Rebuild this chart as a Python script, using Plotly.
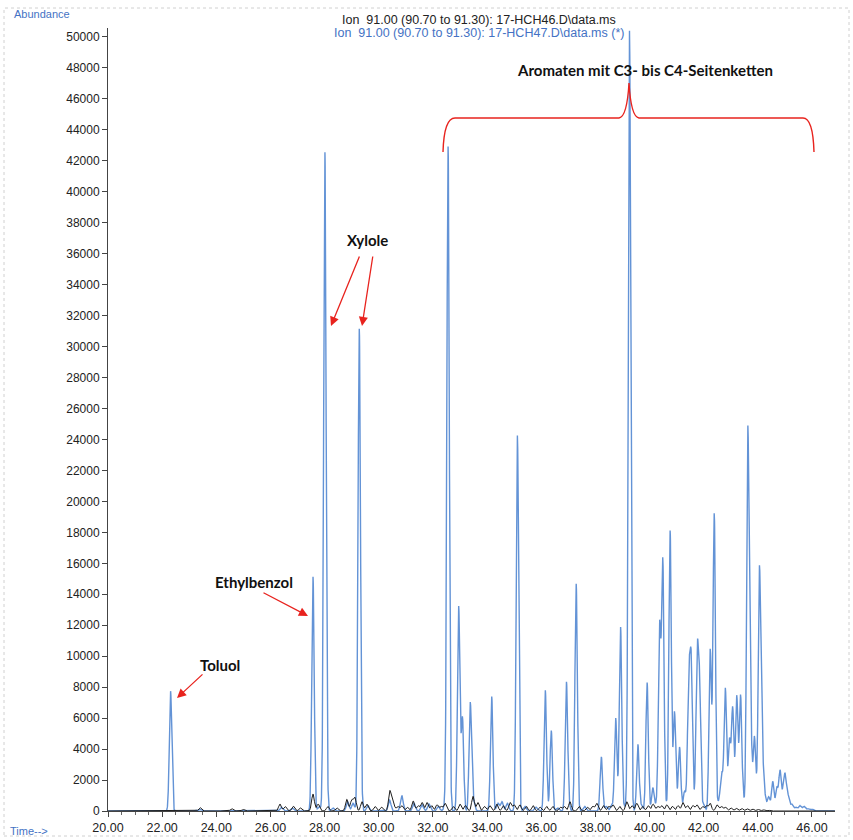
import numpy as np
import plotly.graph_objects as go

# ---------------- data ----------------
# Sample 17-HCH47 (blue) : main peaks (retention time [min], abundance)
blue_major_t = [22.31, 27.57, 28.01, 29.28, 32.56, 32.95, 33.09, 33.38, 34.17, 35.12,
                36.15, 36.37, 36.93, 37.29, 38.22, 38.75, 38.93, 39.26, 39.57, 39.91,
                40.12, 40.37, 40.49, 40.76, 40.92, 41.11, 41.29, 41.45, 41.54, 41.76,
                41.85, 42.24, 42.39, 42.65, 42.80, 42.95, 43.07, 43.22, 43.36, 43.63,
                43.73, 43.87, 44.06, 44.16, 44.55, 44.70, 44.82, 44.95, 45.02, 45.12]
blue_major_h = [7750, 15150, 42600, 31150, 42900, 13200, 6000, 7000, 7400, 24250,
                7800, 5200, 8200, 14700, 3500, 6000, 11900, 50400, 4300, 8300,
                1500, 11800, 16000, 18100, 6300, 4100, 1200, 7800, 9100, 9750,
                7600, 10400, 19200, 1700, 7800, 4500, 6600, 7400, 7300, 24350,
                6100, 4600, 15500, 3600, 1900, 1500, 2600, 1500, 1800, 900]

# Sample 17-HCH47 (blue) : small baseline peaks
blue_minor_t = [23.40, 26.40, 26.80, 27.80, 28.30, 28.85, 29.05, 29.60, 30.40, 30.85,
                31.30, 31.60, 31.85, 32.20, 32.45, 33.50, 34.40, 34.55, 34.75, 35.40,
                35.80, 36.60, 37.00, 37.60, 38.40, 38.60, 39.10, 39.70, 40.25, 40.60,
                41.00, 41.40, 41.65, 42.00, 42.55, 42.70, 43.45, 43.95, 44.25, 44.40,
                45.25, 45.40, 45.55, 45.70, 45.85, 46.00]
blue_minor_h = [100, 250, 200, 300, 200, 600, 500, 350, 700, 1000,
                500, 400, 450, 300, 350, 600, 500, 600, 500, 300,
                250, 200, 400, 300, 300, 350, 300, 350, 400, 300,
                400, 600, 450, 400, 500, 1000, 800, 700, 1000, 900,
                450, 250, 350, 300, 150, 120]

# Sample 17-HCH46 (black) : peaks
black_t = [23.40, 24.57, 24.99, 26.35, 26.54, 26.84, 27.10, 27.57, 27.76, 28.12,
           28.45, 28.82, 29.00, 29.12, 29.38, 29.56, 29.86, 30.10, 30.41, 30.53,
           30.70, 30.85, 31.05, 31.27, 31.45, 31.60, 31.78, 31.95, 32.15, 32.30,
           32.45, 32.75, 33.00, 33.20, 33.48, 33.66, 33.90, 34.10, 34.36, 34.60,
           34.85, 35.00, 35.21, 35.45, 35.70, 35.95, 36.20, 36.43, 36.70, 36.85,
           37.06, 37.40, 37.70, 37.90, 38.05, 38.30, 38.50, 38.65, 38.90, 39.16,
           39.35, 39.53, 39.75, 39.95, 40.13, 40.30, 40.45, 40.64, 40.85, 41.05,
           41.23, 41.40, 41.60, 41.75, 41.95, 42.10, 42.24, 42.49, 42.65, 42.80,
           43.00, 43.20, 43.40, 43.60, 43.80, 44.00, 44.20, 44.40]
black_h = [220, 150, 100, 450, 300, 320, 200, 1100, 450, 300,
           200, 750, 700, 850, 600, 450, 300, 250, 1300, 550,
           300, 350, 250, 650, 350, 550, 550, 350, 400, 300,
           500, 300, 450, 350, 950, 550, 300, 350, 450, 350,
           550, 400, 400, 300, 350, 250, 300, 300, 250, 300,
           600, 300, 250, 300, 500, 350, 300, 400, 300, 600,
           350, 500, 300, 350, 450, 300, 350, 400, 300, 350,
           550, 350, 350, 400, 300, 350, 500, 400, 300, 250,
           200, 180, 170, 150, 130, 110, 80, 50]

x_ticks = [20, 22, 24, 26, 28, 30, 32, 34, 36, 38, 40, 42, 44, 46]
y_ticks = list(range(0, 50001, 2000))

legend_black = "Ion\u00a0 91.00 (90.70 to 91.30): 17-HCH46.D\\data.ms"
legend_blue = "Ion\u00a0 91.00 (90.70 to 91.30): 17-HCH47.D\\data.ms (*)"

# ---------------- build traces ----------------
t = np.arange(20.0, 46.85, 0.004)


def chrom(times, heights, sigma):
    y = np.zeros_like(t)
    for tc, h in zip(times, heights):
        y += h * np.exp(-0.5 * ((t - tc) / sigma) ** 2)
    return y


blue_y = chrom(blue_major_t, blue_major_h, 0.045) + chrom(blue_minor_t, blue_minor_h, 0.05)
black_y = chrom(black_t, black_h, 0.05)

fig = go.Figure()
fig.add_trace(go.Scatter(x=t, y=blue_y, mode="lines",
                         line=dict(color="#6393d6", width=1.4), name=legend_blue))
fig.add_trace(go.Scatter(x=t, y=black_y, mode="lines",
                         line=dict(color="#1e1e1e", width=1.0), name=legend_black))

# layout geometry (pixel helpers for annotation placement)
W, H = 853, 840
L, R, T, B = 108, 18, 28, 29
PW, PH = W - L - R, H - T - B


def px(x):
    return (x - L) / PW


def py(y):
    return (H - B - y) / PH


fig.update_layout(
    width=W, height=H,
    margin=dict(l=L, r=R, t=T, b=B),
    paper_bgcolor="white", plot_bgcolor="white",
    showlegend=False,
    font=dict(family="Liberation Sans, Arial, sans-serif", size=12, color="#222"),
)
fig.update_xaxes(range=[20, 46.85], tickvals=x_ticks, automargin=False,
                 ticktext=[f"{v:.2f}" for v in x_ticks],
                 showline=True, linecolor="#444", linewidth=1,
                 ticks="outside", ticklen=5, tickcolor="#444",
                 minor=dict(dtick=0.5, ticks="outside", ticklen=3, tickcolor="#666"),
                 showgrid=False, zeroline=False,
                 tickfont=dict(size=12.5, color="#222"))
fig.update_yaxes(range=[0, 50580], tickvals=y_ticks, tickformat="d", automargin=False,
                 showline=True, linecolor="#444", linewidth=1,
                 ticks="outside", ticklen=5, tickcolor="#444",
                 showgrid=False, zeroline=False,
                 tickfont=dict(size=12, color="#222"))

ann = []
# axis captions
ann.append(dict(x=px(12), y=py(14), xref="paper", yref="paper", text="Abundance",
                showarrow=False, xanchor="left", yanchor="middle",
                font=dict(size=11, color="#4472c4")))
ann.append(dict(x=px(8), y=py(831), xref="paper", yref="paper", text="Time-->",
                showarrow=False, xanchor="left", yanchor="middle",
                font=dict(size=11, color="#4472c4")))
# legend lines
ann.append(dict(x=px(479), y=py(20.5), xref="paper", yref="paper", text=legend_black,
                showarrow=False, xanchor="center", yanchor="middle",
                font=dict(size=12.5, color="#222")))
ann.append(dict(x=px(479), y=py(33.5), xref="paper", yref="paper", text=legend_blue,
                showarrow=False, xanchor="center", yanchor="middle",
                font=dict(size=12.5, color="#4472c4")))

lab_font = dict(family="Lato, Open Sans, sans-serif", size=15, color="#111")
for txt, xx, yy in [("<b>Toluol</b>", 220, 665), ("<b>Ethylbenzol</b>", 254, 582),
                    ("<b>Xylole</b>", 367, 240),
                    ("<b>Aromaten mit C3- bis C4-Seitenketten</b>", 645, 70)]:
    ann.append(dict(x=px(xx), y=py(yy), xref="paper", yref="paper", text=txt,
                    showarrow=False, xanchor="center", yanchor="middle", font=lab_font))

# red arrows: (tip x, tip y, tail x, tail y) in pixels
for tx, ty, sx, sy in [(177, 698, 204, 673), (308, 616, 262, 592),
                       (331, 326, 360, 255), (362, 326, 373, 255)]:
    ann.append(dict(x=px(tx), y=py(ty), xref="paper", yref="paper", text="",
                    showarrow=True, ax=sx - tx, ay=sy - ty,
                    arrowhead=2, arrowsize=1.4, arrowwidth=1.3, arrowcolor="#e8231e",
                    standoff=0, startstandoff=0))
fig.update_layout(annotations=ann)

# curly brace
path = (f"M {px(443)},{py(152)} Q {px(444)},{py(118)} {px(455)},{py(118)} "
        f"L {px(619)},{py(118)} Q {px(627)},{py(117)} {px(629)},{py(83)} "
        f"Q {px(631)},{py(117)} {px(639)},{py(118)} "
        f"L {px(803)},{py(118)} Q {px(813)},{py(118)} {px(814)},{py(152)}")
fig.add_shape(type="path", path=path, xref="paper", yref="paper",
              line=dict(color="#e8231e", width=1.4))
# faint scan frame
fig.add_shape(type="rect", xref="paper", yref="paper",
              x0=px(4), y0=py(836), x1=px(849), y1=py(8),
              line=dict(color="#d0d0d0", width=1, dash="dot"))

fig.write_html("out.html", config={"displayModeBar": False},
               post_script="document.body.style.margin='0';"
                           "document.body.style.overflow='hidden';")
